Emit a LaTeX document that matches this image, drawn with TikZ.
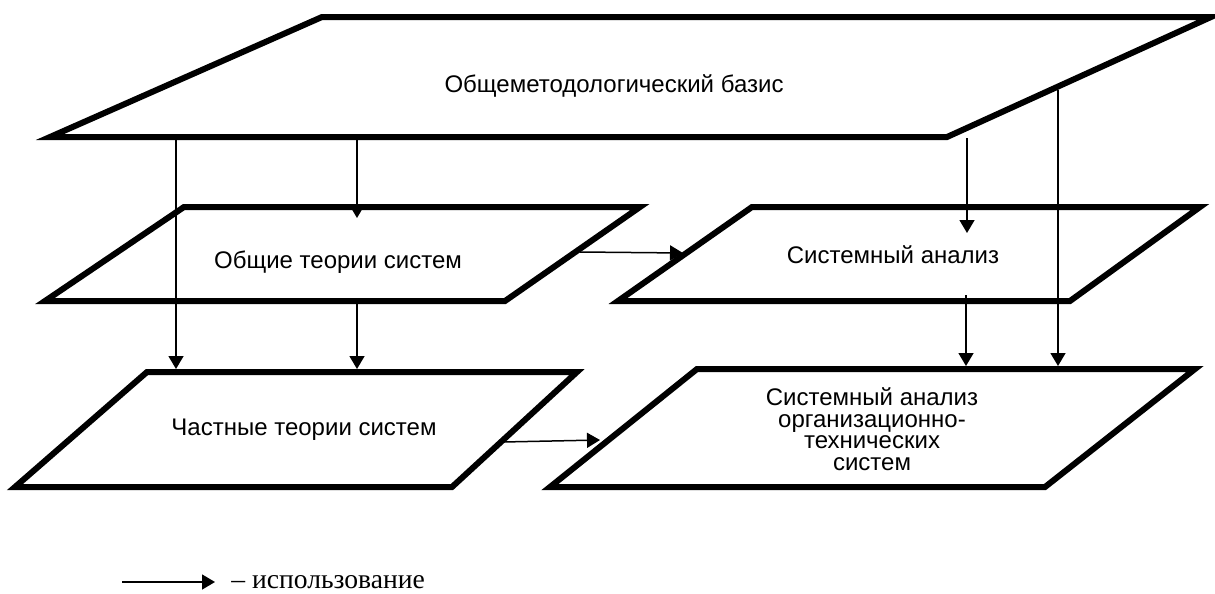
\documentclass[tikz,border=0pt]{standalone}
\usepackage{fontspec}
\setmainfont{Liberation Sans}
\newfontfamily\legendfont{Liberation Serif}
\usetikzlibrary{arrows.meta,positioning,calc}
\tikzset{plate/.style={line width=3pt,line join=miter},
         use/.style={line width=0.75pt,-{Triangle[length=6.5pt,width=7.5pt]}},
         plate text/.style={font=\fontsize{12}{10.75}\selectfont,align=center,inner sep=0pt},
         legend text/.style={font=\legendfont\fontsize{13.8}{15}\selectfont,inner sep=0pt}}

\begin{document}
\begin{tikzpicture}[x=0.5pt,y=-0.5pt]
        \useasboundingbox (0,0) rectangle (1215,594);
        %
        % the plates, corners named as -tl, -tr, -br, -bl
        \draw[plate] (322,17) coordinate (basis-tl) -- (1211,17) coordinate (basis-tr) -- (947,137) coordinate (basis-br) -- (50,137) coordinate (basis-bl) -- cycle;
        \draw[plate] (184,207) coordinate (gts-tl) -- (640,207) coordinate (gts-tr) -- (505,301) coordinate (gts-br) -- (45,301) coordinate (gts-bl) -- cycle;
        \draw[plate] (752,207) coordinate (sa-tl) -- (1200,207) coordinate (sa-tr) -- (1070,301) coordinate (sa-br) -- (618,301) coordinate (sa-bl) -- cycle;
        \draw[plate] (147,372) coordinate (chts-tl) -- (577,372) coordinate (chts-tr) -- (452,487) coordinate (chts-br) -- (15,487) coordinate (chts-bl) -- cycle;
        \draw[plate] (697,369) coordinate (ots-tl) -- (1195,369) coordinate (ots-tr) -- (1045,487) coordinate (ots-br) -- (550,487) coordinate (ots-bl) -- cycle;
        %
        \node[plate text] (basis) at (614,86) {Общеметодологический базис};
        \node[plate text] (gts) at (338,262) {Общие теории систем};
        \node[plate text] (sa) at (893,255) {Системный анализ};
        \node[plate text] (chts) at (304,430) {Частные теории систем};
        \node[plate text] (ots) at (872,429) {Системный анализ\\организационно-\\технических\\систем};
        %
        % vertical links
        \foreach \n/\X/\A/\B in {1/176/134/369,2/357/138/218,3/357/301/369,4/967/138/233,5/966/295/366,6/1058/90/366}
            {\coordinate (v\n-s) at (\X,\A); \coordinate (v\n-e) at (\X,\B);
             \draw[use] (v\n-s) -- (v\n-e);}
        % horizontal links
        \coordinate (h1-s) at (580,252); \coordinate (h1-e) at (683,253);
        \coordinate (h2-s) at (503,442); \coordinate (h2-e) at (600,440);
        \foreach \n in {1,2}
            {\draw[use] (h\n-s) -- (h\n-e);}
        %
        % legend
        \coordinate (leg-s) at (122,582); \coordinate (leg-e) at (215,582);
        \draw[use] (leg-s) -- (leg-e);
        \node[legend text,right=8pt of leg-e] (leg) {– использование};
    \end{tikzpicture}
\end{document}
